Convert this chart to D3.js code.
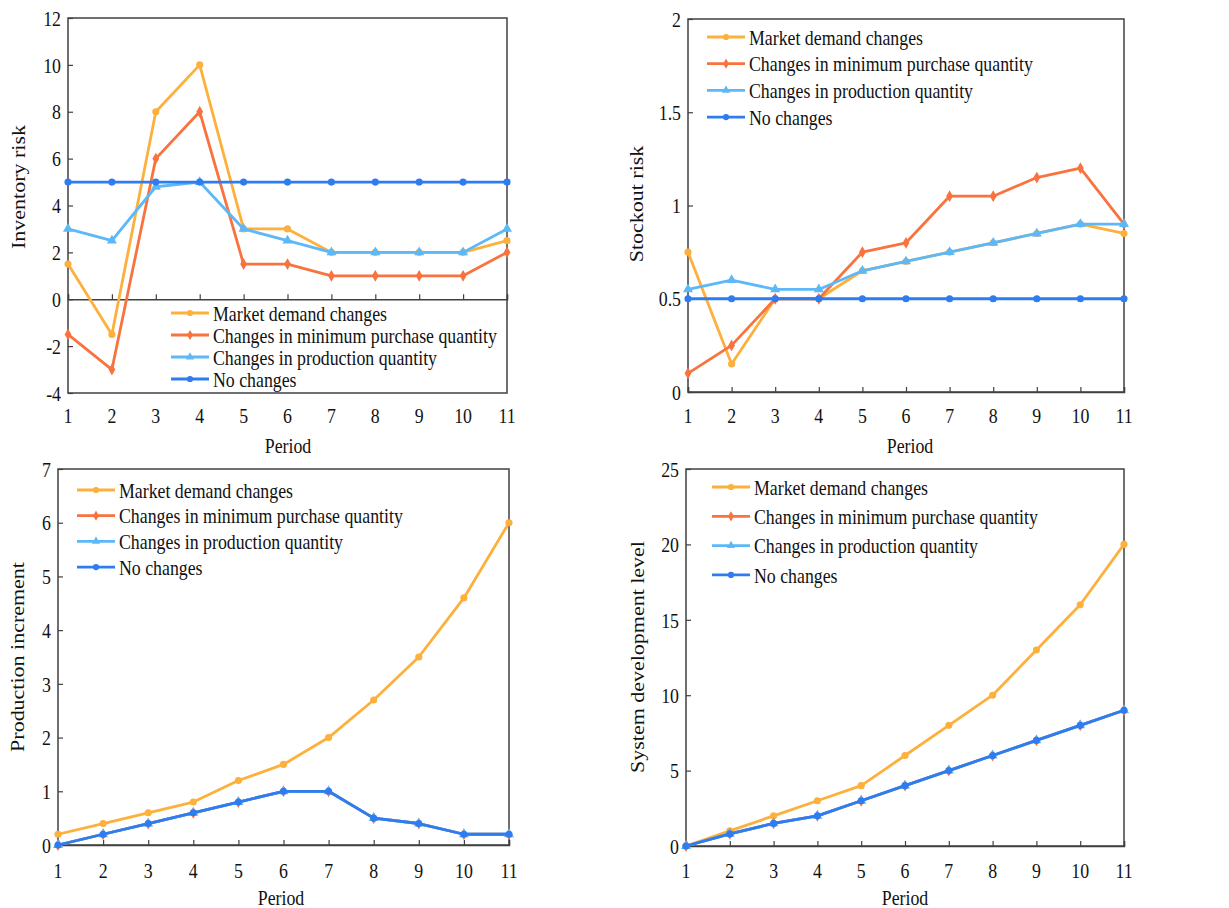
<!DOCTYPE html>
<html><head><meta charset="utf-8">
<script src="https://cdn.jsdelivr.net/npm/d3@7"></script>
<style>
body{margin:0;background:#fff;}
svg text{font-family:"Liberation Serif","Times New Roman",serif;fill:#111;}
</style></head>
<body><svg id="c" width="1229" height="908"></svg>
<script>
const periods = [1,2,3,4,5,6,7,8,9,10,11];
const seriesNames = ["Market demand changes","Changes in minimum purchase quantity","Changes in production quantity","No changes"];
const colors = ["#FDB03C","#F8733E","#5CB8F8","#2E7CF0"];
const symbols = [d3.symbolCircle, d3.symbolDiamond, d3.symbolTriangle, d3.symbolCircle];

// Panel 1: Inventory risk
const inv_market = [1.5,-1.5,8,10,3,3,2,2,2,2,2.5];
const inv_minpur = [-1.5,-3,6,8,1.5,1.5,1,1,1,1,2];
const inv_prod   = [3,2.5,4.8,5,3,2.5,2,2,2,2,3];
const inv_none   = [5,5,5,5,5,5,5,5,5,5,5];
const inv_ticks  = [-4,-2,0,2,4,6,8,10,12];

// Panel 2: Stockout risk
const sto_market = [0.75,0.15,0.5,0.5,0.65,0.7,0.75,0.8,0.85,0.9,0.85];
const sto_minpur = [0.1,0.25,0.5,0.5,0.75,0.8,1.05,1.05,1.15,1.2,0.9];
const sto_prod   = [0.55,0.6,0.55,0.55,0.65,0.7,0.75,0.8,0.85,0.9,0.9];
const sto_none   = [0.5,0.5,0.5,0.5,0.5,0.5,0.5,0.5,0.5,0.5,0.5];
const sto_ticks  = [0,0.5,1,1.5,2];

// Panel 3: Production increment
const pro_market = [0.2,0.4,0.6,0.8,1.2,1.5,2.0,2.7,3.5,4.6,6.0];
const pro_minpur = [0,0.2,0.4,0.6,0.8,1.0,1.0,0.5,0.4,0.2,0.2];
const pro_prod   = [0,0.2,0.4,0.6,0.8,1.0,1.0,0.5,0.4,0.2,0.2];
const pro_none   = [0,0.2,0.4,0.6,0.8,1.0,1.0,0.5,0.4,0.2,0.2];
const pro_ticks  = [0,1,2,3,4,5,6,7];

// Panel 4: System development level
const sys_market = [0,1,2,3,4,6,8,10,13,16,20];
const sys_minpur = [0,0.8,1.5,2,3,4,5,6,7,8,9];
const sys_prod   = [0,0.8,1.5,2,3,4,5,6,7,8,9];
const sys_none   = [0,0.8,1.5,2,3,4,5,6,7,8,9];
const sys_ticks  = [0,5,10,15,20,25];

const panels = [
  {L:68,R:507,T:18,B:393,dom:[-4,12],ticks:inv_ticks,title:"Inventory risk",tx:19,ty:187,
   data:[inv_market,inv_minpur,inv_prod,inv_none],lx:171,ly:313,lsp:22,lab:415,px:288,py:445},
  {L:688,R:1124,T:19,B:392,dom:[0,2],ticks:sto_ticks,title:"Stockout risk",tx:637,ty:204,
   data:[sto_market,sto_minpur,sto_prod,sto_none],lx:707,ly:37,lsp:26.7,lab:415,px:910,py:445},
  {L:58,R:509,T:469,B:845,dom:[0,7],ticks:pro_ticks,title:"Production increment",tx:18,ty:657,
   data:[pro_market,pro_minpur,pro_prod,pro_none],lx:77,ly:490,lsp:25.7,lab:870,px:281,py:897},
  {L:686,R:1124,T:469,B:846,dom:[0,25],ticks:sys_ticks,title:"System development level",tx:638,ty:657,
   data:[sys_market,sys_minpur,sys_prod,sys_none],lx:712,ly:487,lsp:29.3,lab:870,px:905,py:897}
];

const svg = d3.select("#c");
const FS = 22;
const SX = 0.81;
const axisColor = "#404040";

function txt(g, x, y, s, anchor){
  return g.append("text").attr("transform",`translate(${x},${y}) scale(${SX},1)`)
    .attr("dy","0.35em").attr("text-anchor",anchor||"start").attr("font-size",FS).text(s);
}

panels.forEach(p=>{
  const g = svg.append("g");
  const x = d3.scaleLinear().domain([1,11]).range([p.L,p.R]);
  const y = d3.scaleLinear().domain(p.dom).range([p.B,p.T]);
  g.append("rect").attr("x",p.L).attr("y",p.T).attr("width",p.R-p.L).attr("height",p.B-p.T)
    .attr("fill","none").attr("stroke",axisColor).attr("stroke-width",1.5);
  const ya = g.append("g").attr("transform",`translate(${p.L},0)`)
    .call(d3.axisRight(y).tickValues(p.ticks).tickSize(5).tickFormat(""));
  ya.select(".domain").remove();
  ya.selectAll("line").attr("stroke",axisColor).attr("stroke-width",1.2);
  p.ticks.forEach(t=>txt(g,p.L-7,y(t),String(t),"end"));
  const y0 = y(Math.max(0,p.dom[0]));
  const xa = g.append("g").attr("transform",`translate(0,${y0})`)
    .call(d3.axisTop(x).tickValues(periods).tickSize(5).tickFormat(""));
  xa.select(".domain").attr("stroke",axisColor).attr("stroke-width",1.5);
  xa.selectAll("line").attr("stroke",axisColor).attr("stroke-width",1.2);
  periods.forEach(d=>txt(g,x(d),p.lab,String(d),"middle"));
  txt(g,p.px,p.py,"Period","middle");
  g.append("text").attr("transform",`translate(${p.tx},${p.ty}) rotate(-90) scale(1,${SX})`).attr("dy","0.35em")
    .attr("text-anchor","middle").attr("font-size",FS).text(p.title);
  const line = d3.line().x((d,i)=>x(periods[i])).y(d=>y(d));
  p.data.forEach((vals,si)=>{
    g.append("path").datum(vals).attr("d",line).attr("fill","none")
      .attr("stroke",colors[si]).attr("stroke-width",2.8).attr("stroke-linejoin","round");
    const sym = d3.symbol().type(symbols[si]).size(si===2?44:40);
    g.selectAll(null).data(vals).enter().append("path")
      .attr("d",sym).attr("fill",colors[si])
      .attr("transform",(d,i)=>`translate(${x(periods[i])},${y(d)})`);
  });
  seriesNames.forEach((nm,si)=>{
    const ly = p.ly + si*p.lsp;
    g.append("line").attr("x1",p.lx).attr("x2",p.lx+38).attr("y1",ly).attr("y2",ly)
      .attr("stroke",colors[si]).attr("stroke-width",2.8);
    g.append("path").attr("d",d3.symbol().type(symbols[si]).size(30)).attr("fill",colors[si])
      .attr("transform",`translate(${p.lx+19},${ly})`);
    txt(g,p.lx+42,ly,nm,"start");
  });
});
</script></body></html>
